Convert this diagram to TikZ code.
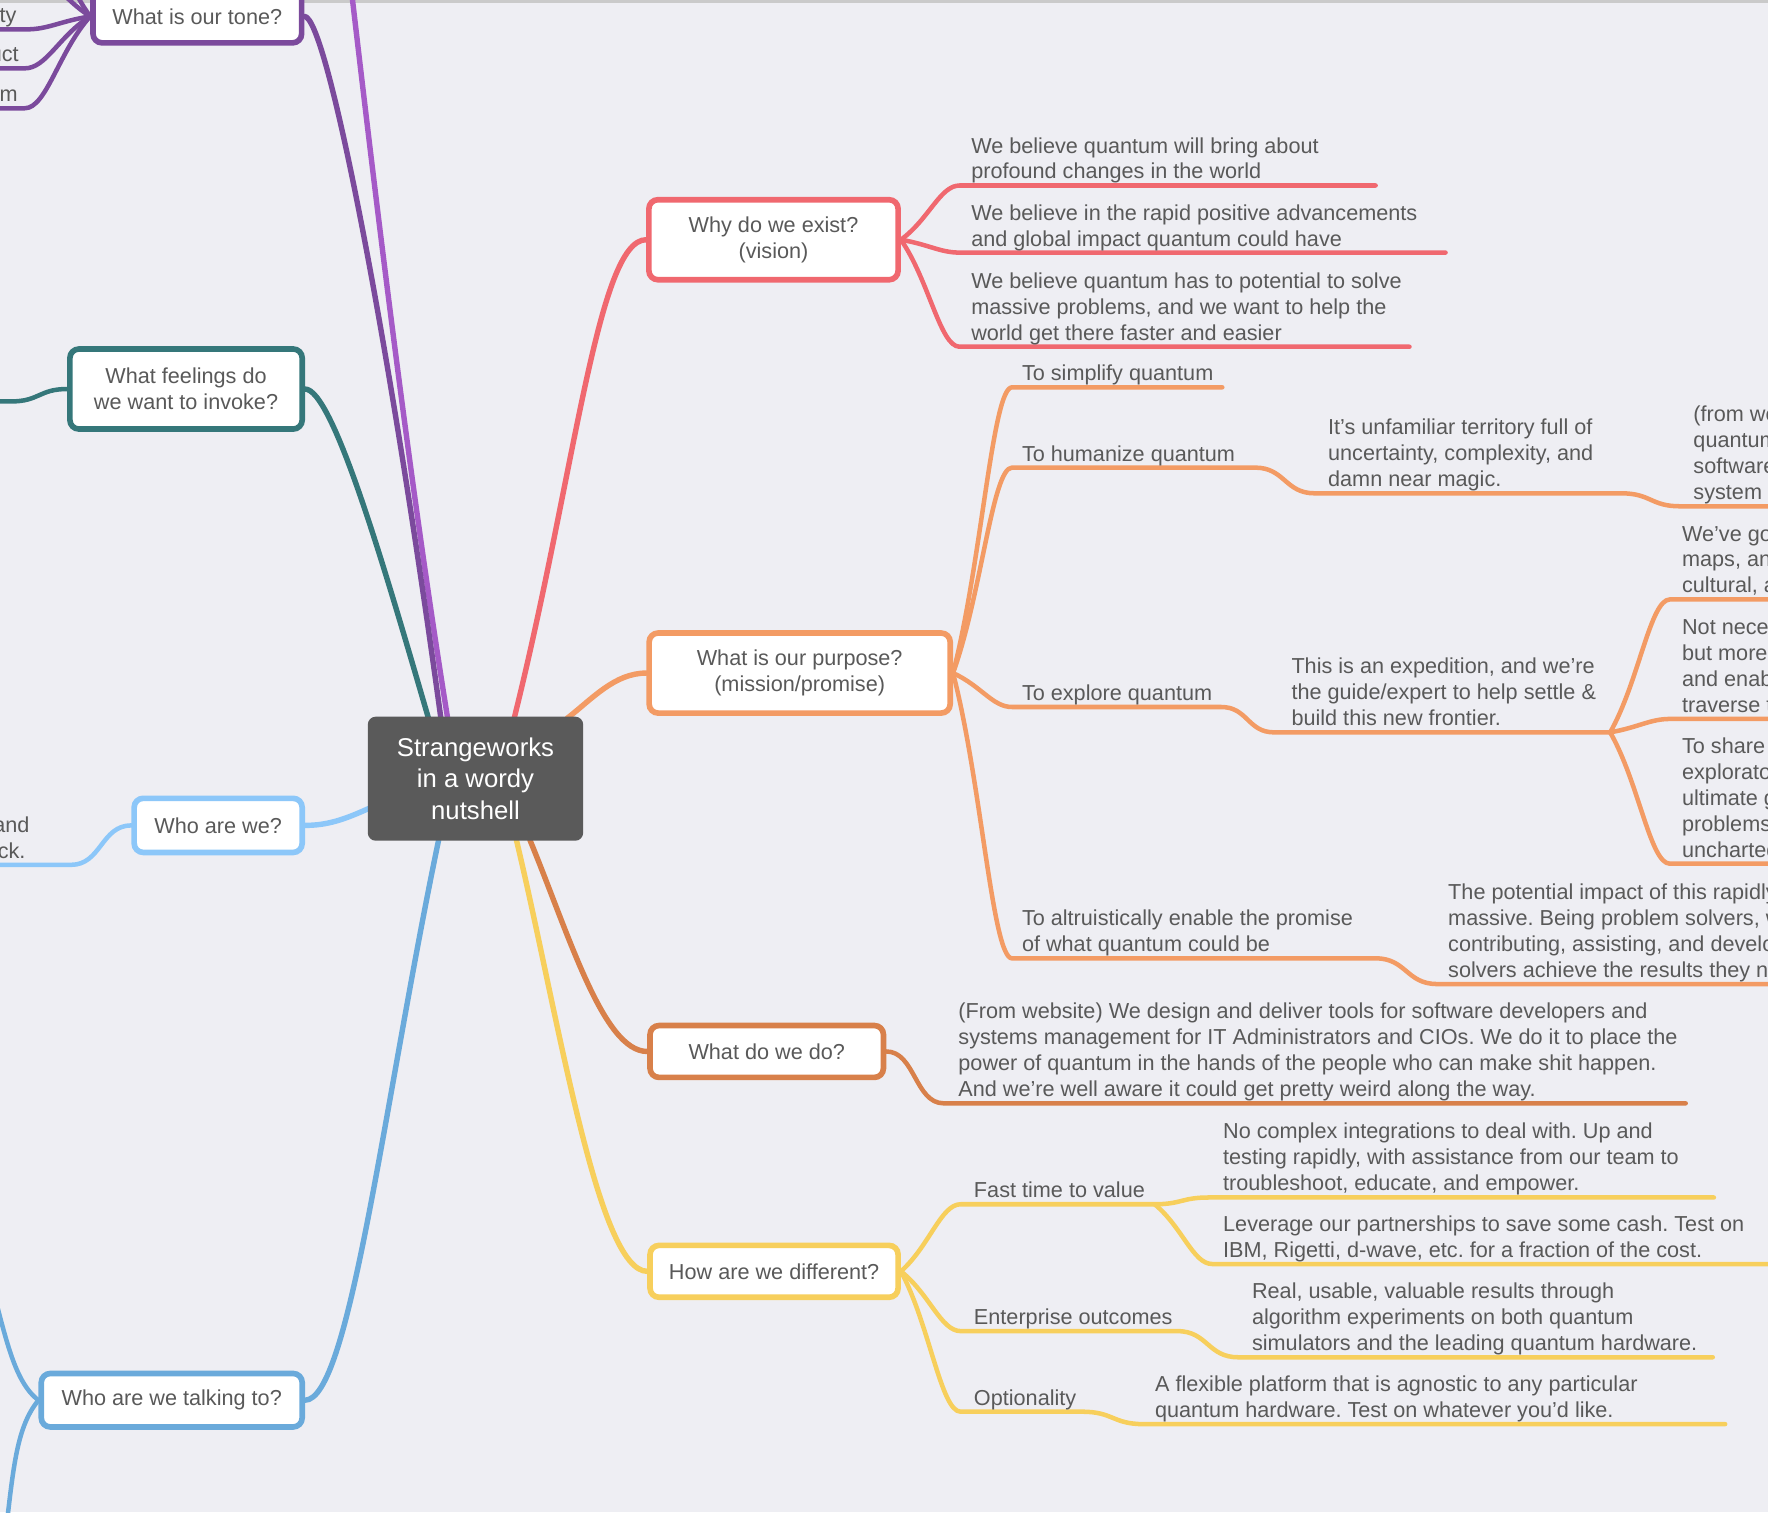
\documentclass[tikz,border=0pt]{standalone}
\usepackage{fontspec}
\setmainfont{Liberation Sans}
\usetikzlibrary{calc}
\frenchspacing
\definecolor{bgc}{HTML}{EEEEF3}
\definecolor{topc}{HTML}{CACACA}
\definecolor{tc}{HTML}{595959}
\definecolor{cgray}{HTML}{5A5A5A}
\definecolor{cred}{HTML}{F0686F}
\definecolor{corange}{HTML}{F39B64}
\definecolor{cbrown}{HTML}{D8804A}
\definecolor{cyellow}{HTML}{F7CF5C}
\definecolor{cblue}{HTML}{6AAADB}
\definecolor{clblue}{HTML}{8CC7F9}
\definecolor{cteal}{HTML}{35777A}
\definecolor{cpurple}{HTML}{7B4A9C}
\definecolor{clpurple}{HTML}{A55AC7}
\pgfdeclarelayer{bgl}
\pgfdeclarelayer{lines}
\pgfsetlayers{bgl,lines,main}
\tikzset{
  txt/.style={font=\fontsize{9.6}{11.5}\selectfont\frenchspacing, text=tc, inner sep=0pt, align=left},
  leaf/.style={txt, anchor=south west},
  qbox/.style={draw=#1, fill=white, line width=2.5pt, rounded corners=4pt,
    font=\fontsize{9.6}{11.5}\selectfont, text=tc, align=center, inner sep=0pt},
  cnode/.style={fill=cgray, rounded corners=3.5pt, text=white, align=center, inner sep=0pt,
    font=\fontsize{11.4}{13.8}\selectfont},
  mainln/.style={draw=#1, line width=2.4pt, line cap=round},
  subln/.style={draw=#1, line width=2pt, line cap=round, line join=round},
  br/.style={to path={let \p1=(\tikztostart), \p2=(\tikztotarget) in
     .. controls ({\x1+0.48*(\x2-\x1)},{\y1+0.38*(\y2-\y1)}) and ({\x2-0.33*(\x2-\x1)},\y2) .. (\p2)}},
  sc/.style={to path={let \p1=(\tikztostart), \p2=(\tikztotarget) in
     .. controls ({0.5*\x1+0.5*\x2},\y1) and ({0.5*\x1+0.5*\x2},\y2) .. (\p2)}},
}
\begin{document}
\begin{tikzpicture}[x=0.5pt,y=-0.5pt]
\useasboundingbox (0,0) rectangle (1568,1341);
\begin{pgfonlayer}{bgl}
  \fill[bgc] (0,0) rectangle (1568,1341);
  \fill[topc] (0,0) rectangle (1568,2.5);
\end{pgfonlayer}
\clip (0,0) rectangle (1568,1341);

% ---------- question boxes ----------
\node[cnode, minimum width=95.5pt, minimum height=55pt] (cen) at (421.7,690.6) {Strangeworks\\in a wordy\\nutshell};
\node[qbox=cred, minimum width=110.5pt, minimum height=35.5pt] (why) at (686,212.6) {Why do we exist?\\(vision)};
\node[qbox=corange, minimum width=133.5pt, minimum height=35.5pt] (purp) at (709.2,596.9) {What is our purpose?\\(mission/promise)};
\node[qbox=cbrown, minimum width=103.5pt, minimum height=23pt] (do) at (680,932.5) {What do we do?};
\node[qbox=cyellow, minimum width=110pt, minimum height=23pt] (diff) at (686.5,1127.5) {How are we different?};
\node[qbox=cblue, minimum width=115.7pt, minimum height=23.7pt] (talk) at (152.3,1241.8) {Who are we talking to?};
\node[qbox=clblue, minimum width=74.5pt, minimum height=24pt] (who) at (193.5,732) {Who are we?};
\node[qbox=cteal, minimum width=103pt, minimum height=35.5pt] (feel) at (165,345) {What feelings do\\we want to invoke?};
\node[qbox=cpurple, minimum width=92.5pt, minimum height=23.5pt] (tone) at (175,14.5) {What is our tone?};

% ---------- leaf texts ----------
\node[leaf] (tr1) at (861,166) {We believe quantum will bring about\\profound changes in the world\strut};
\node[leaf] (tr2) at (861,225.5) {We believe in the rapid positive advancements\\and global impact quantum could have\strut};
\node[leaf] (tr3) at (861,309) {We believe quantum has to potential to solve\\massive problems, and we want to help the\\world get there faster and easier\strut};

\node[leaf] (to1) at (906,345) {To simplify quantum\strut};
\node[leaf] (to2) at (906,416.2) {To humanize quantum\strut};
\node[leaf] (to2a) at (1177.5,439) {It’s unfamiliar territory full of\\uncertainty, complexity, and\\damn near magic.\strut};
\node[leaf] (to2b) at (1501.5,450.5) {(from website)\\quantum\\software\\system\strut};
\node[leaf] (to3) at (906,628.5) {To explore quantum\strut};
\node[leaf] (to3a) at (1145,651) {This is an expedition, and we’re\\the guide/expert to help settle \&\\build this new frontier.\strut};
\node[leaf] (to3b) at (1491.4,533.1) {We’ve got\\maps, and\\cultural, and\strut};
\node[leaf] (to3c) at (1491.4,639.1) {Not necessarily\\but more\\and enable\\traverse the\strut};
\node[leaf] (to3d) at (1491.4,767.5) {To share\\exploratory\\ultimate goal\\problems\\uncharted\strut};
\node[leaf] (to4) at (906,851.4) {To altruistically enable the promise\\of what quantum could be\strut};
\node[leaf] (to4a) at (1284,874.2) {The potential impact of this rapidly\\massive. Being problem solvers, we\\contributing, assisting, and develop\\solvers achieve the results they need\strut};

\node[leaf] (tb1) at (849.6,980) {(From website) We design and deliver tools for software developers and\\systems management for IT Administrators and CIOs. We do it to place the\\power of quantum in the hands of the people who can make shit happen.\\And we’re well aware it could get pretty weird along the way.\strut};

\node[leaf] (ty1) at (863.4,1069.5) {Fast time to value\strut};
\node[leaf] (ty1a) at (1084.4,1063.3) {No complex integrations to deal with. Up and\\testing rapidly, with assistance from our team to\\troubleshoot, educate, and empower.\strut};
\node[leaf] (ty1b) at (1084.4,1122.5) {Leverage our partnerships to save some cash. Test on\\IBM, Rigetti, d-wave, etc. for a fraction of the cost.\strut};
\node[leaf] (ty2) at (863.4,1182) {Enterprise outcomes\strut};
\node[leaf] (ty2a) at (1110,1205.2) {Real, usable, valuable results through\\algorithm experiments on both quantum\\simulators and the leading quantum hardware.\strut};
\node[leaf] (ty3) at (863.4,1253.5) {Optionality\strut};
\node[leaf] (ty3a) at (1024,1264.5) {A flexible platform that is agnostic to any particular\\quantum hardware. Test on whatever you’d like.\strut};

\node[txt, anchor=south east] (tp1) at (15,27.5) {ity\strut};
\node[txt, anchor=south east] (tp2) at (17,62) {uct\strut};
\node[txt, anchor=south east] (tp3) at (16,97.5) {ism\strut};
\node[txt, anchor=south east, align=right] (tlb) at (26.5,768.5) {and\\back.\hspace*{1.75pt}\strut};

% ---------- coordinates ----------
\coordinate (cr) at (456,637);   \coordinate (co) at (503,637);
\coordinate (cb) at (470,745);   \coordinate (cy) at (458,745);
\coordinate (cbl) at (389,745);  \coordinate (clb) at (327,717);
\coordinate (ct) at (380,637);   \coordinate (cp) at (391,637);
\coordinate (clp) at (397,637);

\coordinate (r1a) at (851,164.5); \coordinate (r1b) at (1220,164.5);
\coordinate (r2a) at (851,224);   \coordinate (r2b) at (1282,224);
\coordinate (r3a) at (851,307.5); \coordinate (r3b) at (1250,307.5);

\coordinate (o1a) at (897.5,343.5); \coordinate (o1b) at (1084,343.5);
\coordinate (o2a) at (897.5,414.7); \coordinate (o2b) at (1113,414.7);
\coordinate (o2c) at (1166,437.5);  \coordinate (o2d) at (1438,437.5);
\coordinate (o2e) at (1490,449);    \coordinate (o2f) at (1590,449);
\coordinate (o3a) at (897.5,627);   \coordinate (o3b) at (1083,627);
\coordinate (o3c) at (1130,649.5);  \coordinate (o3d) at (1428,649.5);
\coordinate (o3e) at (1481,531.6);  \coordinate (o3f) at (1590,531.6);
\coordinate (o3g) at (1481,637.6);  \coordinate (o3h) at (1590,637.6);
\coordinate (o3i) at (1481,766);    \coordinate (o3j) at (1590,766);
\coordinate (o4a) at (897.5,849.9); \coordinate (o4b) at (1220,849.9);
\coordinate (o4c) at (1274.5,872.7);\coordinate (o4d) at (1590,872.7);

\coordinate (b1a) at (837,978.5);   \coordinate (b1b) at (1495,978.5);

\coordinate (y1a) at (852,1068);    \coordinate (y1b) at (1024,1068);
\coordinate (y1c) at (1072,1062);   \coordinate (y1d) at (1520,1062);
\coordinate (y1e) at (1075,1121);   \coordinate (y1f) at (1590,1121);
\coordinate (y2a) at (852,1180.5);  \coordinate (y2b) at (1044,1180.5);
\coordinate (y2c) at (1098,1203.7); \coordinate (y2d) at (1519,1203.7);
\coordinate (y3a) at (852,1252);    \coordinate (y3b) at (960,1252);
\coordinate (y3c) at (1014,1263);   \coordinate (y3d) at (1530,1263);

\coordinate (p1a) at (24,26);   \coordinate (p1b) at (-10,26);
\coordinate (p2a) at (22,60.6); \coordinate (p2b) at (-10,60.6);
\coordinate (p3a) at (22,96);   \coordinate (p3b) at (-10,96);
\coordinate (p4) at (12,-40);   \coordinate (p5) at (22,-85);
\coordinate (lp) at (308,-40);
\coordinate (t1a) at (10,356);  \coordinate (t1b) at (-10,356);
\coordinate (l1a) at (63,767);  \coordinate (l1b) at (-10,767);
\coordinate (bl1) at (-10,1130); \coordinate (bl2) at (5,1360);

% ---------- connectors ----------
\begin{pgfonlayer}{lines}
\clip (0,0) rectangle (1568,1341);
% main branches
\draw[mainln=clpurple] (clp) .. controls (362,420) and (330,150) .. (lp);
\draw[mainln=cpurple] (cp) .. controls (345,300) and (290,14.5) .. (tone.east);
\draw[mainln=cteal] (ct) .. controls (340,500) and (295,345) .. (feel.east);
\draw[mainln=cred] (cr) .. controls (510,420) and (530,212.6) .. (why.west);
\draw[mainln=corange] (co) .. controls (525,620) and (545,596.9) .. (purp.west);
\draw[mainln=cbrown] (cb) .. controls (505,830) and (535,932.5) .. (do.west);
\draw[mainln=cyellow] (cy) .. controls (495,900) and (530,1127.5) .. (diff.west);
\draw[mainln=cblue] (cbl) .. controls (340,980) and (310,1241.8) .. (talk.east);
\draw[mainln=clblue] (clb) .. controls (305,727) and (290,732) .. (who.east);

% red
\draw[subln=cred] (why.east) to[br] (r1a) -- (r1b);
\draw[subln=cred] (why.east) to[br] (r2a) -- (r2b);
\draw[subln=cred] (why.east) to[br] (r3a) -- (r3b);
% orange
\draw[subln=corange] (purp.east) to[br] (o1a) -- (o1b);
\draw[subln=corange] (purp.east) to[br] (o2a) -- (o2b) to[sc] (o2c) -- (o2d) to[sc] (o2e) -- (o2f);
\draw[subln=corange] (purp.east) to[br] (o3a) -- (o3b) to[sc] (o3c) -- (o3d);
\draw[subln=corange] (o3d) to[br] (o3e) -- (o3f);
\draw[subln=corange] (o3d) to[br] (o3g) -- (o3h);
\draw[subln=corange] (o3d) to[br] (o3i) -- (o3j);
\draw[subln=corange] (purp.east) to[br] (o4a) -- (o4b) to[sc] (o4c) -- (o4d);
% brown
\draw[subln=cbrown] (do.east) to[sc] (b1a) -- (b1b);
% yellow
\draw[subln=cyellow] (diff.east) to[br] (y1a) -- (y1b) to[sc] (y1c) -- (y1d);
\draw[subln=cyellow] (y1b) to[br] (y1e) -- (y1f);
\draw[subln=cyellow] (diff.east) to[br] (y2a) -- (y2b) to[sc] (y2c) -- (y2d);
\draw[subln=cyellow] (diff.east) to[br] (y3a) -- (y3b) to[sc] (y3c) -- (y3d);
% purple
\draw[subln=cpurple] (tone.west) to[br] (p1a) -- (p1b);
\draw[subln=cpurple] (tone.west) to[br] (p2a) -- (p2b);
\draw[subln=cpurple] (tone.west) to[br] (p3a) -- (p3b);
\draw[subln=cpurple] (tone.west) to[br] (p4);
\draw[subln=cpurple] (tone.west) to[br] (p5);
% teal
\draw[subln=cteal] (feel.west) to[sc] (t1a) -- (t1b);
% light blue
\draw[subln=clblue] (who.west) to[sc] (l1a) -- (l1b);
% blue
\draw[subln=cblue] (talk.west) .. controls (12,1225) and (5,1185) .. (bl1);
\draw[subln=cblue] (talk.west) .. controls (15,1265) and (12,1300) .. (bl2);
\end{pgfonlayer}
\end{tikzpicture}
\end{document}
